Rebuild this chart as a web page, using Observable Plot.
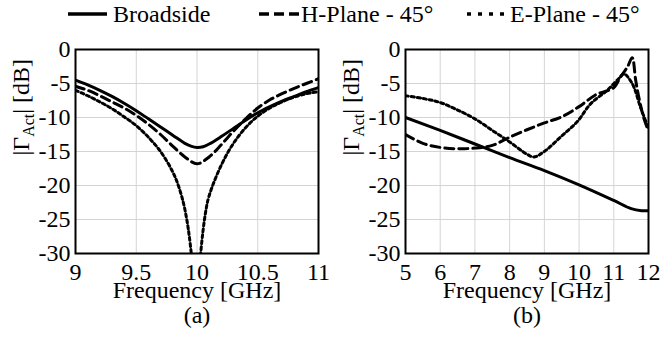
<!DOCTYPE html>
<html>
<head>
<meta charset="utf-8">
<script src="https://cdn.jsdelivr.net/npm/d3@7"></script>
<script src="https://cdn.jsdelivr.net/npm/@observablehq/plot@0.6"></script>
<style>
  html, body { margin: 0; padding: 0; background: #fff; }
  body { width: 660px; height: 351px; overflow: hidden; font-family: "Liberation Serif", "Times New Roman", serif; }
  #legend { position: relative; height: 35px; width: 660px; }
  #legend .sw { position: absolute; top: 0; }
  #legend .lb { position: absolute; top: 2px; font-size: 24px; line-height: 24px; white-space: nowrap; color: #000; }
  #row { display: flex; width: 660px; }
  #row > div { width: 330px; }
</style>
</head>
<body>
<div id="legend"></div>
<div id="row"><div id="pa"></div><div id="pb"></div></div>
<script>
// ---------- data ----------
const seriesNames = ["Broadside", "H-Plane - 45°", "E-Plane - 45°"];

// panel (a)
const aTicksX = [9, 9.5, 10, 10.5, 11];
const aBroadX = [9, 9.1, 9.2, 9.3, 9.4, 9.5, 9.6, 9.7, 9.8, 9.9, 9.95, 10, 10.05, 10.1, 10.2, 10.3, 10.4, 10.5, 10.6, 10.7, 10.8, 10.9, 11];
const aBroadY = [-4.5, -5.2, -6.0, -6.9, -7.9, -9.0, -10.2, -11.4, -12.6, -13.8, -14.2, -14.4, -14.3, -13.9, -12.8, -11.6, -10.4, -9.3, -8.4, -7.6, -6.9, -6.2, -5.6];
const aHX = [9, 9.1, 9.2, 9.3, 9.4, 9.5, 9.6, 9.7, 9.8, 9.9, 10, 10.1, 10.2, 10.3, 10.4, 10.5, 10.6, 10.7, 10.8, 10.9, 11];
const aHY = [-5.4, -6.0, -6.8, -7.7, -8.6, -9.7, -11.0, -12.5, -14.2, -15.8, -16.8, -15.8, -14.0, -12.0, -10.2, -8.6, -7.4, -6.5, -5.7, -5.0, -4.3];
const aEX = [9, 9.1, 9.2, 9.3, 9.4, 9.5, 9.6, 9.7, 9.8, 9.85, 9.9, 9.95, 9.99, 10.03, 10.07, 10.1, 10.2, 10.3, 10.4, 10.5, 10.6, 10.7, 10.8, 10.9, 11];
const aEY = [-6.0, -6.8, -7.7, -8.7, -9.9, -11.2, -12.9, -15.0, -18.0, -20.2, -23.5, -29.5, -40, -30, -24, -21.5, -17.0, -13.8, -11.5, -9.8, -8.6, -7.7, -7.0, -6.5, -6.2];

// panel (b)
const bTicksX = [5, 6, 7, 8, 9, 10, 11, 12];
const bBroadX = [5, 6, 7, 8, 9, 10, 11, 11.5, 11.8, 12];
const bBroadY = [-10.0, -11.9, -13.9, -15.9, -17.8, -19.9, -22.2, -23.4, -23.7, -23.7];
const bHX = [5, 5.5, 6, 6.5, 7, 7.5, 8, 8.5, 9, 9.5, 10, 10.5, 10.8, 11, 11.2, 11.4, 11.53, 11.63, 11.72, 11.86, 12];
const bHY = [-12.5, -13.8, -14.4, -14.6, -14.5, -14.1, -12.9, -11.8, -10.8, -9.9, -8.4, -6.6, -6.1, -5.6, -4.0, -2.5, -1.2, -4.5, -7.0, -10.0, -12.0];
const bEX = [5, 5.5, 6, 6.5, 7, 7.5, 8, 8.5, 8.7, 9, 9.46, 9.95, 10.33, 10.81, 11.14, 11.29, 11.53, 11.77, 12];
const bEY = [-6.8, -7.2, -7.8, -8.9, -10.2, -11.9, -13.6, -15.4, -15.8, -15.0, -12.9, -10.6, -8.0, -6.0, -4.3, -3.6, -5.0, -8.5, -11.6];

const yTicks = [0, -5, -10, -15, -20, -25, -30];
const yLabel = "|ΓAct| [dB]";
const xLabel = "Frequency [GHz]";

// ---------- styles ----------
const dashes = [null, "9,5", "3,3"];
const legendDashes = [null, "10,5", "4,7"];

const zip = (xs, ys) => xs.map((x, i) => ({x, y: ys[i]}));

function panel(xDomain, xTicks, series, tag) {
  const fmt = d => String(d);
  const marks = [
    Plot.gridX(xTicks, {stroke: "#d4d4d4", strokeOpacity: 1, strokeWidth: 1}),
    Plot.gridY(yTicks, {stroke: "#d4d4d4", strokeOpacity: 1, strokeWidth: 1}),
    ...series.map((s, i) => Plot.line(s, {
      x: "x", y: "y", stroke: "black", strokeWidth: 3,
      strokeDasharray: dashes[i] || undefined,
      curve: "catmull-rom", clip: true
    })),
    Plot.frame({stroke: "black", strokeWidth: 2}),
    Plot.axisX(xTicks, {tickSize: 0, tickPadding: 9, tickFormat: fmt, label: null}),
    Plot.axisY(yTicks, {tickSize: 0, tickPadding: 5, tickFormat: fmt, label: null}),
    Plot.text([xLabel], {text: d => d, frameAnchor: "bottom", lineAnchor: "bottom", dy: 44, fontSize: 24}),
    Plot.text([tag], {text: d => d, frameAnchor: "bottom", lineAnchor: "bottom", dy: 69, fontSize: 24}),
    Plot.text([yLabel], {text: d => d, frameAnchor: "left", dx: -54, dy: 4, rotate: -90, lineAnchor: "middle", fontSize: 24})
  ];
  const svg = Plot.plot({
    width: 330, height: 316,
    marginTop: 14, marginBottom: 98, marginLeft: 75, marginRight: 12,
    x: {domain: xDomain},
    y: {domain: [-30, 0]},
    style: {fontFamily: "Liberation Serif", fontSize: "24px", color: "black", background: "white", overflow: "visible"},
    marks
  });
  d3.select(svg).selectAll("text")
    .filter(function () { return this.textContent === yLabel; })
    .each(function () {
      this.innerHTML = '|Γ<tspan font-size="16" dy="5">Act</tspan><tspan dy="-5">| [dB]</tspan>';
    });
  return svg;
}

document.getElementById("pa").appendChild(panel([9, 11], aTicksX,
  [zip(aBroadX, aBroadY), zip(aHX, aHY), zip(aEX, aEY)], "(a)"));
document.getElementById("pb").appendChild(panel([5, 12], bTicksX,
  [zip(bBroadX, bBroadY), zip(bHX, bHY), zip(bEX, bEY)], "(b)"));

// ---------- legend ----------
const legend = d3.select("#legend");
const swLeft = [68, 259, 467];
const swWidth = [39, 40, 38];
const lbLeft = [113, 301, 510];
seriesNames.forEach((name, i) => {
  const sw = legend.append("svg").attr("class", "sw")
    .attr("width", swWidth[i]).attr("height", 28)
    .style("left", swLeft[i] + "px");
  sw.append("line").attr("x1", 0).attr("x2", swWidth[i]).attr("y1", 14).attr("y2", 14)
    .attr("stroke", "black").attr("stroke-width", 3.5)
    .attr("stroke-dasharray", legendDashes[i]);
  legend.append("div").attr("class", "lb").style("left", lbLeft[i] + "px").text(name);
});
</script>
</body>
</html>
